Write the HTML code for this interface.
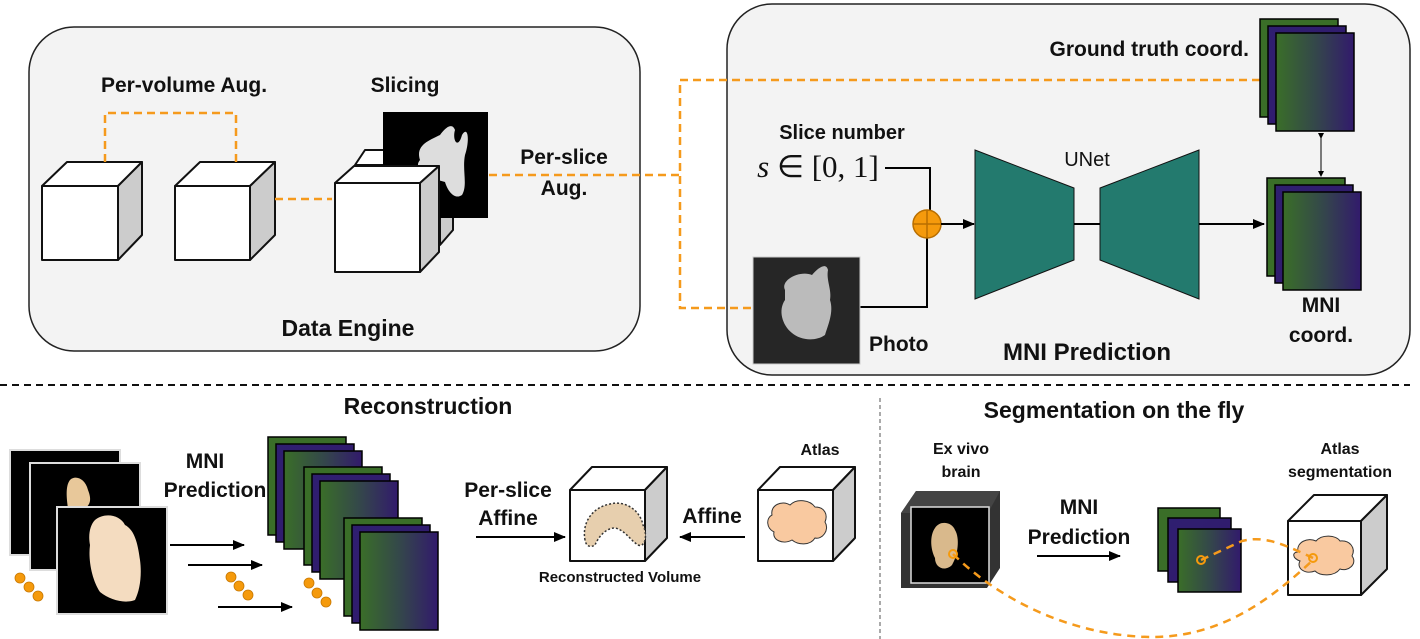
<!DOCTYPE html>
<html><head><meta charset="utf-8"><style>
html,body{margin:0;padding:0;background:#fff;}
svg{display:block;}
text{font-family:"Liberation Sans",Arial,sans-serif;font-weight:bold;fill:#111;}
</style></head><body>
<svg width="1420" height="639" viewBox="0 0 1420 639" xmlns="http://www.w3.org/2000/svg">
<defs>
<linearGradient id="g" x1="0" x2="1" y1="0" y2="0"><stop offset="0" stop-color="#3a6e28"/><stop offset="0.5" stop-color="#34484a"/><stop offset="1" stop-color="#321a6c"/></linearGradient>
<linearGradient id="gp" x1="0" x2="1" y1="0" y2="1"><stop offset="0" stop-color="#2f1f70"/><stop offset="1" stop-color="#321a6c"/></linearGradient>
<marker id="ah" markerWidth="12" markerHeight="10" refX="11" refY="5" orient="auto" markerUnits="userSpaceOnUse"><path d="M0,0 L12,5 L0,10 Z" fill="#000"/></marker>
<marker id="ahs" markerWidth="6" markerHeight="6" refX="5" refY="3" orient="auto" markerUnits="userSpaceOnUse"><path d="M0,0 L6,3 L0,6 Z" fill="#000"/></marker>
<g id="stack3">
<rect x="0" y="0" width="78" height="98" fill="#3a6e28" stroke="#000" stroke-width="1.5"/>
<rect x="8" y="7" width="78" height="98" fill="url(#gp)" stroke="#000" stroke-width="1.5"/>
<rect x="16" y="14" width="78" height="98" fill="url(#g)" stroke="#000" stroke-width="1.5"/>
</g>
</defs>

<rect x="29" y="27" width="611" height="324" rx="45" fill="#f3f3f3" stroke="#222" stroke-width="1.5"/>
<text x="184" y="92" font-size="21" text-anchor="middle">Per-volume Aug.</text>
<text x="405" y="92" font-size="21" text-anchor="middle">Slicing</text>
<text x="348" y="336" font-size="23" text-anchor="middle">Data Engine</text>

<g stroke="#111" stroke-width="2" stroke-linejoin="round">
<polygon points="42,186 67,162 142,162 118,186" fill="#fff"/>
<polygon points="118,186 142,162 142,235 118,260" fill="#ccc"/>
<rect x="42" y="186" width="76" height="74" fill="#fff"/>
<polygon points="175,186 200,162 275,162 250,186" fill="#fff"/>
<polygon points="250,186 275,162 275,235 250,260" fill="#ccc"/>
<rect x="175" y="186" width="75" height="74" fill="#fff"/>
<polygon points="355,165 365,150 440,150 440,165" fill="#fff"/>
<polygon points="440,165 453,150 453,230 440,245" fill="#ccc"/>
</g>
<rect x="383" y="112" width="105" height="106" fill="#000"/>
<path d="M420,160 C415,145 430,140 440,135 C445,128 452,122 455,130 C452,140 458,150 462,135 C468,125 470,140 465,155 C462,170 468,185 462,195 C455,200 448,192 445,182 C438,180 430,178 425,172 C418,168 416,165 420,160Z" fill="#ddd"/>
<g stroke="#111" stroke-width="2" stroke-linejoin="round">
<polygon points="335,183 354,166 439,166 420,183" fill="#fff"/>
<polygon points="420,183 439,166 439,252 420,272" fill="#ccc"/>
<rect x="335" y="183" width="85" height="89" fill="#fff"/>
</g>
<g fill="none" stroke="#f59a1c" stroke-width="2.5" stroke-dasharray="8,5">
<polyline points="105,162 105,113 236,113 236,162"/>
<line x1="275" y1="199" x2="332" y2="199"/>
<line x1="489" y1="175" x2="680" y2="175"/>
</g>
<text x="564" y="164" font-size="21" text-anchor="middle">Per-slice</text>
<text x="564" y="195" font-size="21" text-anchor="middle">Aug.</text>

<rect x="727" y="4" width="683" height="371" rx="45" fill="#f3f3f3" stroke="#222" stroke-width="1.5"/>
<g fill="none" stroke="#f59a1c" stroke-width="2.5" stroke-dasharray="8,5">
<polyline points="1260,80 680,80 680,308 752,308"/>
</g>
<text x="1249" y="56" font-size="21" text-anchor="end">Ground truth coord.</text>
<use href="#stack3" transform="translate(1260,19)"/>
<line x1="1321" y1="138" x2="1321" y2="176" stroke="#000" stroke-width="1" marker-end="url(#ahs)" marker-start="url(#ahs)"/>
<use href="#stack3" transform="translate(1267,178)"/>
<text x="1321" y="312" font-size="21" text-anchor="middle">MNI</text>
<text x="1321" y="342" font-size="21" text-anchor="middle">coord.</text>

<text x="842" y="139" font-size="20" text-anchor="middle">Slice number</text>
<text x="818" y="177" font-size="31" text-anchor="middle" style="font-family:'Liberation Serif',serif;font-weight:normal"><tspan font-style="italic">s</tspan> ∈ [0, 1]</text>
<polyline points="885,168 930,168 930,210" fill="none" stroke="#000" stroke-width="2"/>
<polyline points="860,307 927,307 927,238" fill="none" stroke="#000" stroke-width="2"/>
<rect x="753" y="257" width="107" height="107" fill="#262626" stroke="#ccc" stroke-width="1"/>
<path d="M785,290 C780,280 800,270 812,275 C818,268 826,262 828,270 C826,280 832,290 830,300 C834,312 828,325 825,335 C815,342 800,340 792,333 C782,325 778,310 785,300Z" fill="#bbb"/>
<text x="869" y="351" font-size="21">Photo</text>
<ellipse cx="927" cy="224" rx="14" ry="14" fill="#f59a0c" stroke="#b86e00" stroke-width="1.5"/>
<line x1="913" y1="224" x2="941" y2="224" stroke="#b86e00" stroke-width="1.5"/>
<line x1="927" y1="210" x2="927" y2="238" stroke="#b86e00" stroke-width="1.5"/>
<line x1="941" y1="224" x2="974" y2="224" stroke="#000" stroke-width="2" marker-end="url(#ah)"/>
<polygon points="975,150 1074,188 1074,260 975,299" fill="#237a6e" stroke="#111" stroke-width="1"/>
<polygon points="1100,188 1199,150 1199,299 1100,260" fill="#237a6e" stroke="#111" stroke-width="1"/>
<line x1="1074" y1="224" x2="1100" y2="224" stroke="#000" stroke-width="2"/>
<text x="1087" y="166" font-size="20" text-anchor="middle" style="font-weight:normal">UNet</text>
<line x1="1199" y1="224" x2="1264" y2="224" stroke="#000" stroke-width="2" marker-end="url(#ah)"/>
<text x="1087" y="360" font-size="24" text-anchor="middle">MNI Prediction</text>

<line x1="0" y1="385" x2="1410" y2="385" stroke="#111" stroke-width="2" stroke-dasharray="7,5"/>
<line x1="880" y1="398" x2="880" y2="639" stroke="#555" stroke-width="1" stroke-dasharray="4,3"/>

<text x="428" y="414" font-size="23" text-anchor="middle">Reconstruction</text>
<rect x="10" y="450" width="110" height="105" fill="#000" stroke="#ddd" stroke-width="2"/>
<rect x="30" y="463" width="110" height="107" fill="#000" stroke="#ddd" stroke-width="2"/>
<path d="M70,480 C75,475 85,478 88,490 C92,500 90,505 85,508 L68,508 C66,495 66,485 70,480Z" fill="#e8c89a"/>
<rect x="57" y="507" width="110" height="107" fill="#000" stroke="#ddd" stroke-width="2"/>
<path d="M95,520 C105,512 120,515 125,525 C135,530 138,545 140,560 C142,575 140,590 135,600 C125,604 110,600 100,592 C92,580 88,560 90,545 C88,535 90,525 95,520Z" fill="#f4dcc0"/>
<text x="205" y="468" font-size="21" text-anchor="middle">MNI</text>
<text x="215" y="497" font-size="21" text-anchor="middle">Prediction</text>
<g stroke="#000" stroke-width="2">
<line x1="170" y1="545" x2="244" y2="545" marker-end="url(#ah)"/>
<line x1="188" y1="565" x2="262" y2="565" marker-end="url(#ah)"/>
<line x1="218" y1="607" x2="292" y2="607" marker-end="url(#ah)"/>
</g>
<g fill="#f59a0c" stroke="#c97800" stroke-width="0.8">
<circle cx="20" cy="578" r="5"/><circle cx="29" cy="587" r="5"/><circle cx="38" cy="596" r="5"/>
<circle cx="231" cy="577" r="5"/><circle cx="239" cy="586" r="5"/><circle cx="248" cy="595" r="5"/>
<circle cx="309" cy="583" r="5"/><circle cx="317" cy="593" r="5"/><circle cx="326" cy="602" r="5"/>
</g>
<use href="#stack3" transform="translate(268,437)"/>
<use href="#stack3" transform="translate(304,467)"/>
<use href="#stack3" transform="translate(344,518)"/>
<text x="508" y="497" font-size="21" text-anchor="middle">Per-slice</text>
<text x="508" y="525" font-size="21" text-anchor="middle">Affine</text>
<line x1="476" y1="537" x2="565" y2="537" stroke="#000" stroke-width="2" marker-end="url(#ah)"/>
<g stroke="#111" stroke-width="2" stroke-linejoin="round">
<polygon points="570,490 592,467 667,467 645,490" fill="#fff"/>
<polygon points="645,490 667,467 667,538 645,561" fill="#ccc"/>
<rect x="570" y="490" width="75" height="71" fill="#fff"/>
<polygon points="758,490 780,467 855,467 833,490" fill="#fff"/>
<polygon points="833,490 855,467 855,538 833,561" fill="#ccc"/>
<rect x="758" y="490" width="75" height="71" fill="#fff"/>
</g>
<path d="M585,540 C582,525 590,508 610,504 C625,500 640,510 643,525 C648,535 645,548 638,545 C630,540 625,530 615,528 C605,528 598,538 595,545 C590,548 586,546 585,540Z" fill="#e7cfae" stroke="#333" stroke-width="1.5" stroke-dasharray="2,2"/>
<text x="620" y="582" font-size="15" text-anchor="middle">Reconstructed Volume</text>
<text x="712" y="523" font-size="21" text-anchor="middle">Affine</text>
<line x1="745" y1="537" x2="680" y2="537" stroke="#000" stroke-width="2" marker-end="url(#ah)"/>
<text x="820" y="455" font-size="16" text-anchor="middle">Atlas</text>
<path d="M772,515 C770,505 782,500 790,505 C797,498 810,500 815,507 C825,507 828,515 825,522 C830,530 822,540 815,538 C810,546 798,545 792,540 C783,545 772,540 774,532 C766,528 766,518 772,515Z" fill="#f9c9a0" stroke="#333" stroke-width="1"/>

<text x="1114" y="418" font-size="23" text-anchor="middle">Segmentation on the fly</text>
<text x="961" y="454" font-size="16" text-anchor="middle">Ex vivo</text>
<text x="961" y="477" font-size="16" text-anchor="middle">brain</text>
<polygon points="901,513 916,491 1000,491 1000,568 987,588 901,588" fill="#333"/>
<polygon points="901,513 916,491 1000,491 988,513" fill="#444"/>
<rect x="911" y="507" width="78" height="76" fill="#000" stroke="#ddd" stroke-width="1.5"/>
<path d="M935,528 C940,520 952,522 955,530 C960,538 958,555 952,565 C945,572 935,568 935,558 C930,548 930,535 935,528Z" fill="#d9b98c"/>
<text x="1079" y="514" font-size="21" text-anchor="middle">MNI</text>
<text x="1079" y="544" font-size="21" text-anchor="middle">Prediction</text>
<line x1="1037" y1="556" x2="1120" y2="556" stroke="#000" stroke-width="2" marker-end="url(#ah)"/>
<rect x="1158" y="508" width="62" height="63" fill="#3a6e28" stroke="#000" stroke-width="1.5"/>
<rect x="1168" y="518" width="63" height="64" fill="url(#gp)" stroke="#000" stroke-width="1.5"/>
<rect x="1178" y="529" width="63" height="63" fill="url(#g)" stroke="#000" stroke-width="1.5"/>
<text x="1340" y="454" font-size="16" text-anchor="middle">Atlas</text>
<text x="1340" y="477" font-size="16" text-anchor="middle">segmentation</text>
<g stroke="#111" stroke-width="2" stroke-linejoin="round">
<polygon points="1288,521 1314,495 1387,495 1361,521" fill="#fff"/>
<polygon points="1361,521 1387,495 1387,569 1361,595" fill="#ccc"/>
<rect x="1288" y="521" width="73" height="74" fill="#fff"/>
</g>
<path d="M1298,552 C1296,542 1308,537 1316,541 C1322,534 1336,535 1340,541 C1350,540 1356,548 1352,556 C1358,564 1348,572 1340,569 C1334,577 1320,576 1315,571 C1305,575 1296,568 1300,561 C1292,558 1292,552 1298,552Z" fill="#f9c9a0" stroke="#333" stroke-width="1"/>
<g fill="none" stroke="#f59a1c" stroke-width="2.5" stroke-dasharray="8,6">
<path d="M1201,560 L1242,541 C1265,535 1285,545 1313,558"/>
<path d="M953,554 C1000,600 1070,635 1149,637 C1220,638 1270,600 1313,560"/>
</g>
<g fill="none" stroke="#f59a0c" stroke-width="2">
<circle cx="1201" cy="560" r="4"/><circle cx="953" cy="554" r="4"/><circle cx="1313" cy="558" r="4"/>
</g>
</svg>
</body></html>
